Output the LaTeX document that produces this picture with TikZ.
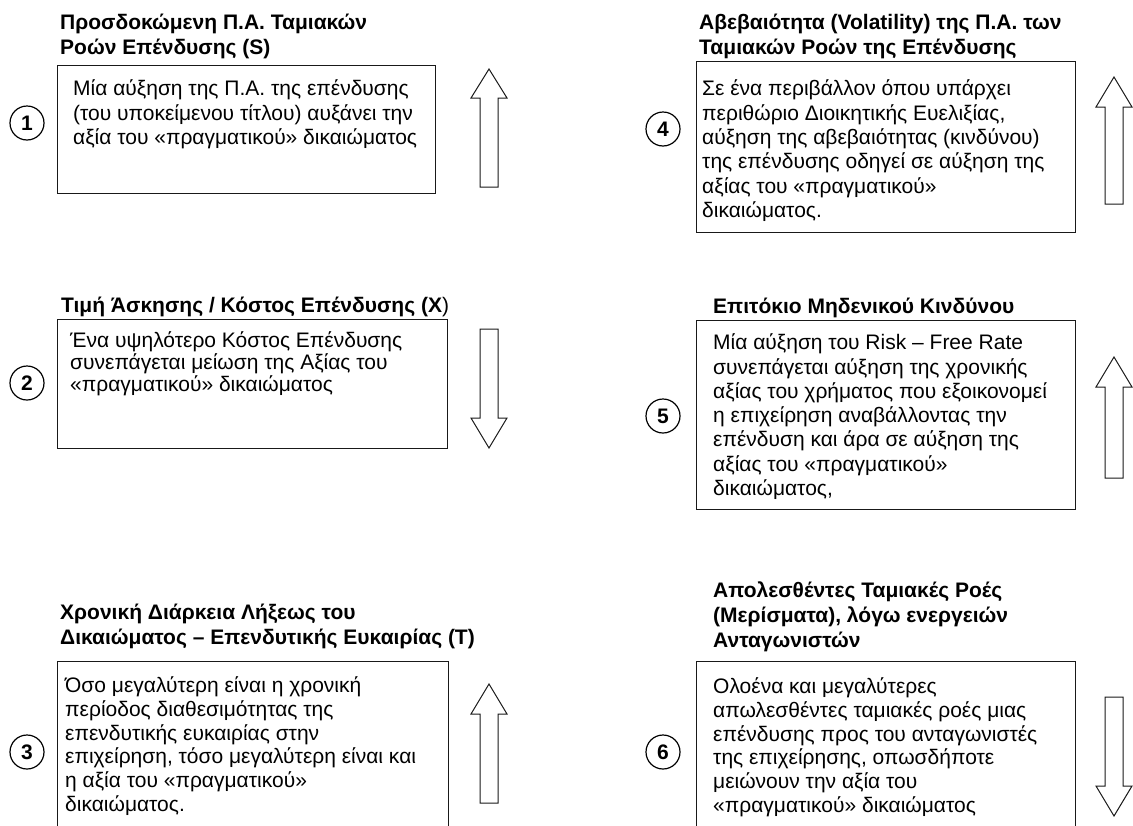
\documentclass[tikz,border=0pt]{standalone}
\usepackage{fontspec}
\setmainfont{Liberation Sans}
\newcommand\firstln{\rule{0pt}{16.5pt}}
\begin{document}
\begin{tikzpicture}[x=1pt,y=-1pt,
  box/.style={draw=black!90, line width=1.2pt, rectangle, inner sep=0pt, anchor=north west},
  body/.style={anchor=north west, inner sep=0pt, align=left, font=\fontsize{21}{24.4}\selectfont},
  head/.style={anchor=north west, inner sep=0pt, align=left, font=\fontsize{21}{24.8}\selectfont\bfseries},
  num/.style={draw, circle, line width=1.2pt, minimum size=34pt, inner sep=0pt, font=\fontsize{21}{21}\selectfont\bfseries},
  barrow/.style={draw=black!90, line width=1pt, fill=white, line join=miter}]
\useasboundingbox (0,0) rectangle (1133,825);
\clip (0,0) rectangle (1133,825);

% ---------- left column ----------
\node[head] (t1) at (60,13) {\firstln Προσδοκώμενη Π.Α. Ταμιακών\\Ροών Επένδυσης (S)};
\node[box, minimum width=378pt, minimum height=128pt] (b1) at (57,65) {};
\node[body] (x1) at (73,79) {\firstln Μία αύξηση της Π.Α. της επένδυσης\\(του υποκείμενου τίτλου) αυξάνει την\\αξία του «πραγματικού» δικαιώματος};
\node[num] (c1) at (27,123) {1};
\draw[barrow] (489,69) -- (507,98) -- (498,98) -- (498,187) -- (480,187) -- (480,98) -- (471,98) -- cycle;

\node[head] (t2) at (61,296) {\firstln Τιμή Άσκησης / Κόστος Επένδυσης (X{\mdseries )}};
\node[box, minimum width=390pt, minimum height=129pt] (b2) at (57,319) {};
\node[body, font=\fontsize{21}{21.7}\selectfont] (x2) at (70,331) {\firstln Ένα υψηλότερο Κόστος Επένδυσης\\συνεπάγεται μείωση της Αξίας του\\«πραγματικού» δικαιώματος};
\node[num] (c2) at (27,383) {2};
\draw[barrow] (489,448) -- (507,418) -- (498,418) -- (498,329) -- (480,329) -- (480,418) -- (471,418) -- cycle;

\node[head] (t3) at (60,603) {\firstln Χρονική Διάρκεια Λήξεως του\\Δικαιώματος – Επενδυτικής Ευκαιρίας (T)};
\node[box, minimum width=391pt, minimum height=220pt] (b3) at (57,661) {};
\node[body, font=\fontsize{21}{23.7}\selectfont] (x3) at (65,676) {\firstln Όσο μεγαλύτερη είναι η χρονική\\περίοδος διαθεσιμότητας της\\επενδυτικής ευκαιρίας στην\\επιχείρηση, τόσο μεγαλύτερη είναι και\\η αξία του «πραγματικού»\\δικαιώματος.};
\node[num] (c3) at (27,752) {3};
\draw[barrow] (489,684) -- (507,714) -- (498,714) -- (498,803) -- (480,803) -- (480,714) -- (471,714) -- cycle;

% ---------- right column ----------
\node[head] (t4) at (699,13) {\firstln Αβεβαιότητα (Volatility) της Π.Α. των\\Ταμιακών Ροών της Επένδυσης};
\node[box, minimum width=379pt, minimum height=171pt] (b4) at (696,61) {};
\node[body] (x4) at (702,79) {\firstln Σε ένα περιβάλλον όπου υπάρχει\\περιθώριο Διοικητικής Ευελιξίας,\\αύξηση της αβεβαιότητας (κινδύνου)\\της επένδυσης οδηγεί σε αύξηση της\\αξίας του «πραγματικού»\\δικαιώματος.};
\node[num] (c4) at (663,129) {4};
\draw[barrow] (1114,77) -- (1132,107) -- (1123,107) -- (1123,204) -- (1105,204) -- (1105,107) -- (1096,107) -- cycle;

\node[head] (t5) at (713,297) {\firstln Επιτόκιο Μηδενικού Κινδύνου};
\node[box, minimum width=379pt, minimum height=189pt] (b5) at (696,320) {};
\node[body, font=\fontsize{21}{24.3}\selectfont] (x5) at (713,333) {\firstln Μία αύξηση του Risk – Free Rate\\συνεπάγεται αύξηση της χρονικής\\αξίας του χρήματος που εξοικονομεί\\η επιχείρηση αναβάλλοντας την\\επένδυση και άρα σε αύξηση της\\αξίας του «πραγματικού»\\δικαιώματος,};
\node[num] (c5) at (663,416) {5};
\draw[barrow] (1114,357) -- (1132,387) -- (1123,387) -- (1123,478) -- (1105,478) -- (1105,387) -- (1096,387) -- cycle;

\node[head] (t6) at (713,581) {\firstln Απολεσθέντες Ταμιακές Ροές\\(Μερίσματα), λόγω ενεργειών\\Ανταγωνιστών};
\node[box, minimum width=379pt, minimum height=220pt] (b6) at (696,661) {};
\node[body, font=\fontsize{21}{23.7}\selectfont] (x6) at (713,677) {\firstln Ολοένα και μεγαλύτερες\\απωλεσθέντες ταμιακές ροές μιας\\επένδυσης προς του ανταγωνιστές\\της επιχείρησης, οπωσδήποτε\\μειώνουν την αξία του\\«πραγματικού» δικαιώματος};
\node[num] (c6) at (663,752) {6};
\draw[barrow] (1114,816) -- (1132,786) -- (1123,786) -- (1123,697) -- (1105,697) -- (1105,786) -- (1096,786) -- cycle;
\end{tikzpicture}
\end{document}
